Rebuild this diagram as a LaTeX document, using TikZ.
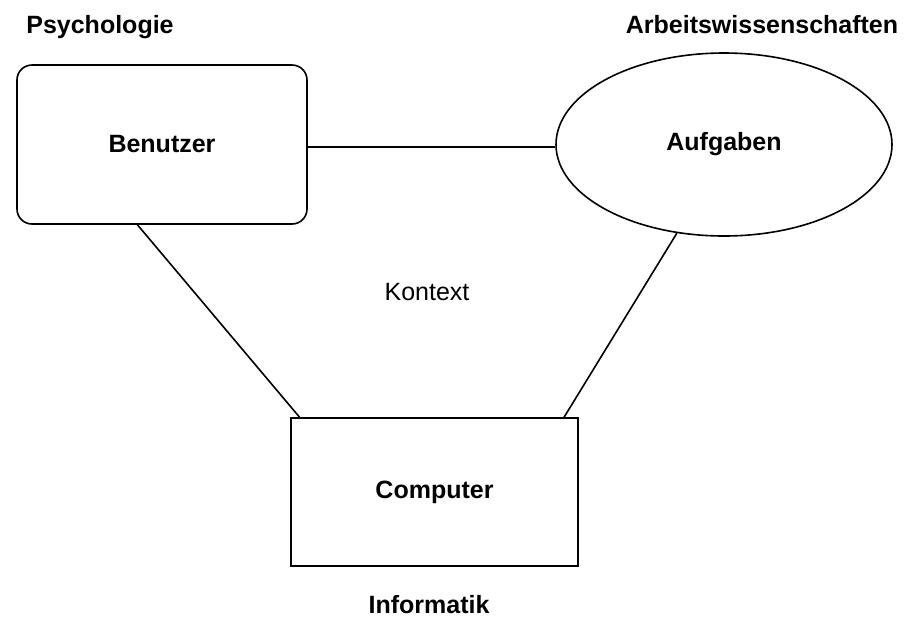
\documentclass[tikz,border=0pt]{standalone}
\usepackage{fontspec}
\setmainfont{Liberation Sans}
\usetikzlibrary{shapes.geometric}
\begin{document}
\begin{tikzpicture}[x=0.5pt, y=-0.5pt, line width=0.8pt,
    font=\fontsize{12.5}{15}\selectfont,
    main/.style = {draw, font=\fontsize{12.5}{15}\selectfont\bfseries, inner sep=0pt},
    field/.style = {font=\fontsize{12.5}{15}\selectfont\bfseries, anchor=base}]
    \useasboundingbox (0,0) rectangle (909,618);
    \node[main, rounded corners=7.5pt, minimum width=145pt, minimum height=79.5pt] (benutzer) at (162,144.5) {Benutzer};
    \node[main, ellipse, minimum width=168pt, minimum height=91.5pt] (aufgaben) at (724,144.5) {Aufgaben};
    \node[main, minimum width=143.5pt, minimum height=74pt] (computer) at (434.5,492) {Computer};
    \node[anchor=base] (kontext) at (427,300) {Kontext};
    \node[field] (psych) at (100,33) {Psychologie};
    \node[field] (arbeit) at (762,33) {Arbeitswissenschaften};
    \node[field] (info) at (429,613) {Informatik};
    \draw (benutzer.east |- 0,147) -- (aufgaben.west |- 0,147);
    \draw (benutzer.253) -- (computer.151);
    \draw (aufgaben.242.5) -- (computer.30);
  \end{tikzpicture}
\end{document}
